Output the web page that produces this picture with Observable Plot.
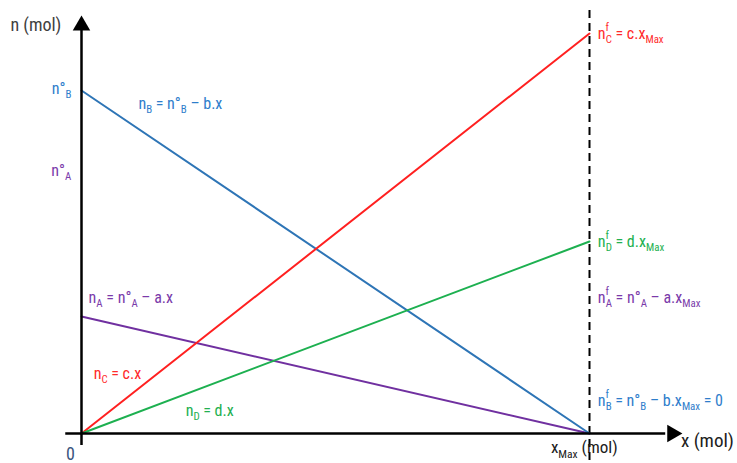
<!DOCTYPE html>
<html><head><meta charset="utf-8">
<script src="https://cdn.jsdelivr.net/npm/d3@7"></script>
<script src="https://cdn.jsdelivr.net/npm/@observablehq/plot@0.6"></script>
<style>body{margin:0;background:#fff}</style>
</head><body><div id="chart"></div>
<script>
// ---- data ----
const xMax = 1;
const seriesNames = ["A", "B", "C", "D"];
const startValues = [117, 343, 0, 0];     // n at x = 0
const endValues   = [0, 0, 400, 192];     // n at x = xMax
const seriesColors = ["#7030A0", "#2E75B6", "#FF2020", "#1DB050"];
const nA0Tick = 263;                      // n°A tick label position (as in the sketch)
const nB0Tick = 345;

const lineData = seriesNames.flatMap((s, i) => [
  {s, x: 0, y: startValues[i]},
  {s, x: xMax, y: endValues[i]}
]);

// annotation labels (_{..} subscript, ^{..} superscript)
const annotations = [
  {t: "n_{B} = n°_{B} – b.x", x: 0.112, y: 330, c: "#2E7DCB"},
  {t: "n_{A} = n°_{A} – a.x", x: 0.014, y: 136, c: "#7A3AAA"},
  {t: "n_{C} = c.x", x: 0.024, y: 60, c: "#FF2A2A"},
  {t: "n_{D} = d.x", x: 0.205, y: 23, c: "#22B050"},
  {t: "n^{f}_{C} = c.x_{Max}", x: 1.016, y: 400, c: "#FF2A2A"},
  {t: "n^{f}_{D} = d.x_{Max}", x: 1.016, y: 192, c: "#22B050"},
  {t: "n^{f}_{A} = n°_{A} – a.x_{Max}", x: 1.016, y: 136, c: "#7A3AAA"},
  {t: "n^{f}_{B} = n°_{B} – b.x_{Max} = 0", x: 1.016, y: 33, c: "#2E7DCB"}
];
const leftTicks = [
  {t: "n°_{B}", y: nB0Tick, c: "#2E7DCB"},
  {t: "n°_{A}", y: nA0Tick, c: "#7A3AAA"}
];

const FONT = "'Liberation Sans Narrow', 'Roboto Condensed', 'Arial Narrow', sans-serif";

const plot = Plot.plot({
  width: 737, height: 463, margin: 0,
  x: {domain: [0, 1], range: [81, 589], axis: null},
  y: {domain: [0, 400], range: [433, 33], axis: null},
  style: {fontFamily: FONT, background: "#fff"},
  marks: [
    // dashed xMax line
    Plot.ruleX([xMax], {y1: -40, y2: 424, stroke: "#000", strokeWidth: 2, strokeDasharray: "8,5"}),
    // series lines
    Plot.line(lineData, {x: "x", y: "y", z: "s", stroke: d => seriesColors[seriesNames.indexOf(d.s)], strokeWidth: 2}),
    // axes
    Plot.ruleY([0], {x1: -0.031, x2: 1.15, stroke: "#000", strokeWidth: 2.5}),
    Plot.ruleX([0], {y1: -12, y2: 403, stroke: "#000", strokeWidth: 2.5}),
    Plot.dot([{x: 1.163, y: 0}], {x: "x", y: "y", symbol: "triangle", r: 6.5, fill: "#000", rotate: 90}),
    Plot.dot([{x: 0, y: 408}], {x: "x", y: "y", symbol: "triangle", r: 6.5, fill: "#000"}),
    // axis texts
    Plot.text(["n (mol)"], {x: -0.14, y: 408, text: d => d, textAnchor: "start", fontSize: 18, fill: "#404040"}),
    Plot.text(["x (mol)"], {x: 1.18, y: -7, text: d => d, textAnchor: "start", fontSize: 19, fill: "#202020"}),
    Plot.text(["0"], {x: -0.022, y: -21, text: d => d, textAnchor: "middle", fontSize: 18, fill: "#3A5680"}),
    Plot.text(["x_{Max} (mol)"], {x: 0.924, y: -14, text: d => d, textAnchor: "start", fontSize: 17, fill: "#202020"}),
    Plot.text(leftTicks, {x: -0.02, y: "y", text: "t", fill: "c", textAnchor: "end", fontSize: 16}),
    // annotations
    Plot.text(annotations, {x: "x", y: "y", text: "t", fill: "c", textAnchor: "start", fontSize: 16})
  ]
});
document.getElementById("chart").appendChild(plot);

// turn _{..} / ^{..} markup into sub/superscript tspans
const NS = "http://www.w3.org/2000/svg";
plot.querySelectorAll("text").forEach(el => {
  const raw = el.textContent;
  if (!/[_^]\{/.test(raw)) return;
  const fs = parseFloat(el.getAttribute("font-size") || getComputedStyle(el).fontSize) || 16;
  const parts = [];
  const re = /([_^])\{([^}]*)\}/g;
  let last = 0, m;
  while ((m = re.exec(raw))) {
    if (m.index > last) parts.push({k: "n", s: raw.slice(last, m.index)});
    parts.push({k: m[1] === "_" ? "sub" : "sup", s: m[2]});
    last = re.lastIndex;
  }
  if (last < raw.length) parts.push({k: "n", s: raw.slice(last)});
  while (el.firstChild) el.removeChild(el.firstChild);
  let off = 0, prev = "n";
  parts.forEach(p => {
    const ts = document.createElementNS(NS, "tspan");
    const target = p.k === "sub" ? fs * 0.3 : p.k === "sup" ? -fs * 0.45 : 0;
    ts.setAttribute("dy", target - off);
    off = target;
    if (p.k !== "n") ts.setAttribute("font-size", fs * 0.68);
    if (p.k === "sub" && prev === "sup") ts.setAttribute("dx", -fs * 0.2);
    ts.textContent = p.s;
    el.appendChild(ts);
    prev = p.k;
  });
});
</script></body></html>
